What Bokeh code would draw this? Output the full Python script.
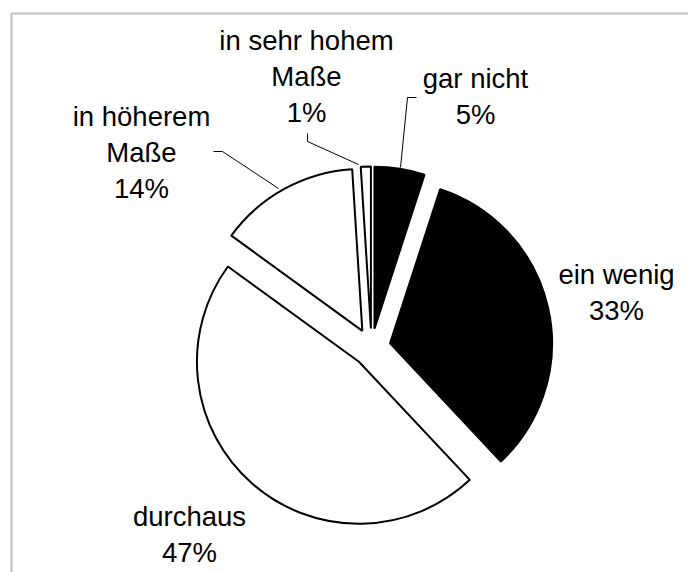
import math
from bokeh.plotting import figure
from bokeh.models import Range1d, ColumnDataSource
from bokeh.core.properties import value
from bokeh.embed import file_html
from bokeh.resources import INLINE

# ---- data ----
categories = ["gar nicht", "ein wenig", "durchaus", "in höherem Maße", "in sehr hohem Maße"]
percentages = [5, 33, 47, 14, 1]
label_lines = [["gar nicht"], ["ein wenig"], ["durchaus"], ["in höherem", "Maße"], ["in sehr hohem", "Maße"]]
colors = ["#000000", "#000000", "#ffffff", "#ffffff", "#ffffff"]

# ---- layout (pixel coordinates of the page) ----
W, H = 688, 572
def dx(px):
    return px
def dy(py):
    return H - py

CX, CY = dx(371), dy(347)
R = 162
EXPLODE = 19
FONT = value("Liberation Sans")
FS = "27.5px"
LINE_GAP = 36
# first-line centre position of each label (page px)
label_pos = [(475, 78), (616, 274), (189, 516), (141, 116), (306, 40)]
leaders = [
    [(400, 167), (407, 97), (416, 97)],
    None,
    None,
    [(278, 188), (222, 151), (213, 151)],
    [(358, 164), (307, 141), (307, 133)],
]

p = figure(width=W, height=H, output_backend="svg", toolbar_location=None,
           x_range=Range1d(0, W), y_range=Range1d(0, H),
           x_axis_type=None, y_axis_type=None, min_border=0,
           outline_line_color=None)
p.grid.visible = False
p.background_fill_color = "white"
p.border_fill_color = "white"

# frame (top and left edges visible)
p.line([dx(11), dx(11), dx(720)], [dy(620), dy(13), dy(13)], line_color="#c0c0c0", line_width=2)

# slices
total = sum(percentages)
xs, ys, sa, ea, fills, lines = [], [], [], [], [], []
cum = 0.0
for v, c in zip(percentages, colors):
    f0 = cum / total
    cum += v
    f1 = cum / total
    mid = math.pi * (f0 + f1)  # clockwise from top
    xs.append(CX + EXPLODE * math.sin(mid))
    ys.append(CY + EXPLODE * math.cos(mid))
    sa.append(math.pi / 2 - 2 * math.pi * f0)
    ea.append(math.pi / 2 - 2 * math.pi * f1)
    fills.append(c)
    lines.append("#000000")

src = ColumnDataSource(dict(x=xs, y=ys, sa=sa, ea=ea, fill=fills, line=lines))
p.wedge(x="x", y="y", radius=R, start_angle="sa", end_angle="ea", direction="clock",
        fill_color="fill", line_color="line", line_width=2, source=src)

# leader lines
for ld in leaders:
    if ld:
        p.line([dx(a) for a, b in ld], [dy(b) for a, b in ld], line_color="black", line_width=1)

# labels
tx, ty, tt = [], [], []
for lines_, pct, (lx, ly) in zip(label_lines, percentages, label_pos):
    all_lines = lines_ + [f"{pct}%"]
    for i, t in enumerate(all_lines):
        tx.append(dx(lx))
        ty.append(dy(ly + i * LINE_GAP))
        tt.append(t)
p.text(x=tx, y=ty, text=tt, text_align="center", text_baseline="middle",
       text_font=FONT, text_font_size=FS, text_color="black")

open("out.html", "w").write(file_html(p, INLINE))
